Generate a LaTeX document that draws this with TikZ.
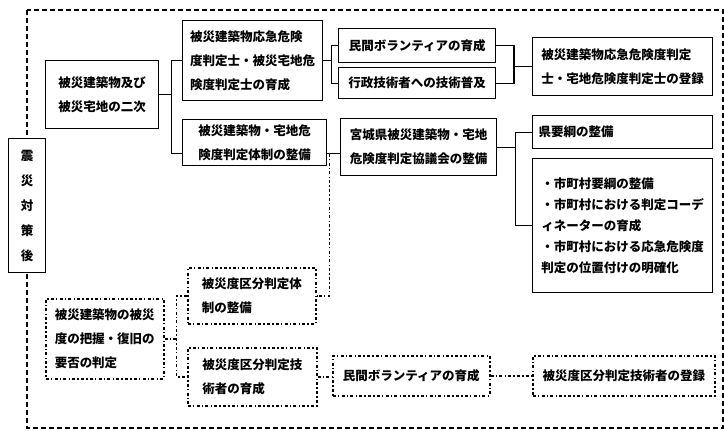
\documentclass[tikz,border=0pt]{standalone}
\usepackage{fontspec}
\setmainfont{Noto Sans CJK JP}
\tikzset{
  box/.style={draw, line width=1.4pt, anchor=north west, inner sep=0pt, align=left, fill=white, font=\fontsize{12.5}{24}\selectfont\bfseries},
  dotbox/.style={box, line width=1.5pt, dash pattern=on 3pt off 2.2pt on 1.4pt off 2.2pt},
  link/.style={line width=1.4pt},
  dotlink/.style={line width=1.5pt, dash pattern=on 3pt off 2.2pt on 1.4pt off 2.2pt},
}
\begin{document}
\begin{tikzpicture}[x=1pt, y=-1pt]
  \useasboundingbox (0,0) rectangle (724,431);
  % outer frame
  \draw[line width=1.5pt, dash pattern=on 5pt off 3pt] (27,10) rectangle (723,428);
  % solid boxes
  \node[box, minimum width=37pt, minimum height=134pt, align=center, font=\fontsize{12.5}{25}\selectfont\bfseries] (pre) at (8,138) {震\\災\\対\\策\\後};
  \node[box, minimum width=113pt, minimum height=68pt] (a) at (45,60) {被災建築物及び\\被災宅地の二次};
  \node[box, minimum width=140pt, minimum height=80pt] (b) at (182,20) {被災建築物応急危険\\度判定士・被災宅地危\\険度判定士の育成};
  \node[box, minimum width=144pt, minimum height=46pt] (c) at (182,119) {被災建築物・宅地危\\険度判定体制の整備};
  \node[box, minimum width=157pt, minimum height=34pt] (d) at (338,28) {民間ボランティアの育成};
  \node[box, minimum width=157pt, minimum height=31pt] (e) at (338,67) {行政技術者への技術普及};
  \node[box, minimum width=180pt, minimum height=58pt] (f) at (532,37) {被災建築物応急危険度判定\\士・宅地危険度判定士の登録};
  \node[box, minimum width=156pt, minimum height=57pt] (g) at (340,118) {宮城県被災建築物・宅地\\危険度判定協議会の整備};
  \node[box, text width=168pt, inner xsep=6pt, minimum height=33pt] (h) at (532,115) {県要綱の整備};
  \node[box, minimum width=180pt, minimum height=134pt, font=\fontsize{12.5}{21}\selectfont\bfseries] (i) at (532,158) {・市町村要綱の整備\\・市町村における判定コーデ\\ィネーターの育成\\・市町村における応急危険度\\判定の位置付けの明確化};
  % dash-dot boxes
  \node[dotbox, minimum width=118pt, minimum height=80pt] (j) at (45,298) {被災建築物の被災\\度の把握・復旧の\\要否の判定};
  \node[dotbox, minimum width=128pt, minimum height=56pt] (k) at (187,267) {被災度区分判定体\\制の整備};
  \node[dotbox, minimum width=129pt, minimum height=58pt] (l) at (187,347) {被災度区分判定技\\術者の育成};
  \node[dotbox, minimum width=157pt, minimum height=40pt] (m) at (332,355) {民間ボランティアの育成};
  \node[dotbox, minimum width=182pt, minimum height=40pt] (n) at (532,355) {被災度区分判定技術者の登録};
  % solid connectors
  \draw[link] (a.east) -- ++(12,0) coordinate (ab);
  \draw[link] (b.west) -| (ab) |- ([yshift=-11pt]c.west);
  \draw[link] (b.east) -- ++(8,0) coordinate (bd);
  \draw[link] (d.west) -| (bd) |- (e.west);
  \draw[link] (f.west) -- ++(-18,0) coordinate (df);
  \draw[link] (d.east) -| (df) |- (e.east);
  \coordinate (cg) at ([yshift=-11pt]c.east);
  \draw[link] (cg) -- (cg -| g.west);
  \draw[link] (g.east) -- ++(18,0) coordinate (gh);
  \draw[link] (h.west) -| (gh) |- (i.west);
  % dash-dot connectors
  \draw[dotlink] ([xshift=2pt]cg) |- (k.east);
  \draw[dotlink] (j.east) -- ++(12,0) coordinate (jk);
  \draw[dotlink] (k.west) -| (jk) |- (l.west);
  \draw[dotlink] (l.east) -- (l.east -| m.west);
  \draw[dotlink] (m.east) -- (n.west);
\end{tikzpicture}
\end{document}
